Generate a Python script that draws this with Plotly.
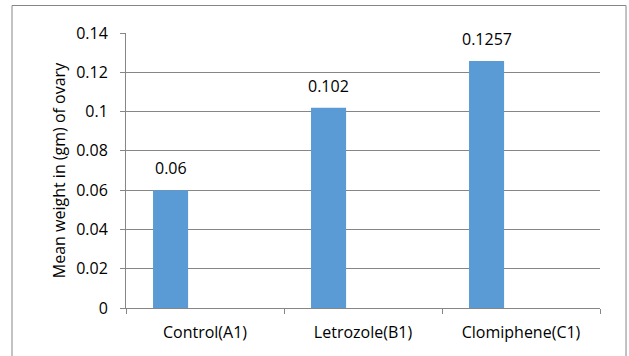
import plotly.graph_objects as go

categories = ["Control(A1)", "Letrozole(B1)", "Clomiphene(C1)"]
values = [0.06, 0.102, 0.1257]
labels = ["0.06", "0.102", "0.1257"]
y_ticks = [0, 0.02, 0.04, 0.06, 0.08, 0.1, 0.12, 0.14]
y_ticktext = ["0", "0.02", "0.04", "0.06", "0.08", "0.1", "0.12", "0.14"]

FONT = "Open Sans"
FS = 16
fig = go.Figure()
fig.add_trace(go.Bar(
    x=categories, y=values,
    marker=dict(color="#5B9BD5", line=dict(width=0)),
    width=0.222, offset=-0.329,
    hoverinfo="skip",
))
for c, v, t in zip(categories, values, labels):
    fig.add_annotation(x=c, y=v, text=t, showarrow=False, xshift=-34.5, yshift=22,
                       yanchor="middle", font=dict(family=FONT, size=FS, color="#000"))

fig.update_layout(
    width=629, height=356,
    margin=dict(l=126, r=29, t=33, b=48),
    paper_bgcolor="white", plot_bgcolor="white",
    showlegend=False,
    font=dict(family=FONT, size=FS, color="#000"),
    xaxis=dict(
        type="category", range=[-0.5, 2.5],
        showline=True, linecolor="#868686", linewidth=1,
        ticks="outside", tickson="boundaries", ticklen=5, tickcolor="#868686",
        ticklabelstandoff=10,
        showgrid=False, tickfont=dict(family=FONT, size=FS, color="#000"),
    ),
    yaxis=dict(
        range=[0, 0.14], tickvals=y_ticks, ticktext=y_ticktext,
        showline=True, linecolor="#868686", linewidth=1,
        ticks="outside", ticklen=5, tickcolor="#868686",
        ticklabelstandoff=9,
        showgrid=True, gridcolor="#868686", gridwidth=1,
        zeroline=False,
        tickfont=dict(family=FONT, size=FS, color="#000"),
        title=dict(text="Mean weight in (gm) of ovary", standoff=6,
                   font=dict(family=FONT, size=FS, color="#000")),
    ),
    shapes=[dict(type="rect", xref="paper", yref="paper",
                 x0=-0.2405, x1=1.0549, y0=-0.4, y1=1.1,
                 line=dict(color="#868686", width=1), layer="above")],
)
fig.write_html("out.html", config={"displayModeBar": False},
               post_script="document.body.style.margin='0px';")
